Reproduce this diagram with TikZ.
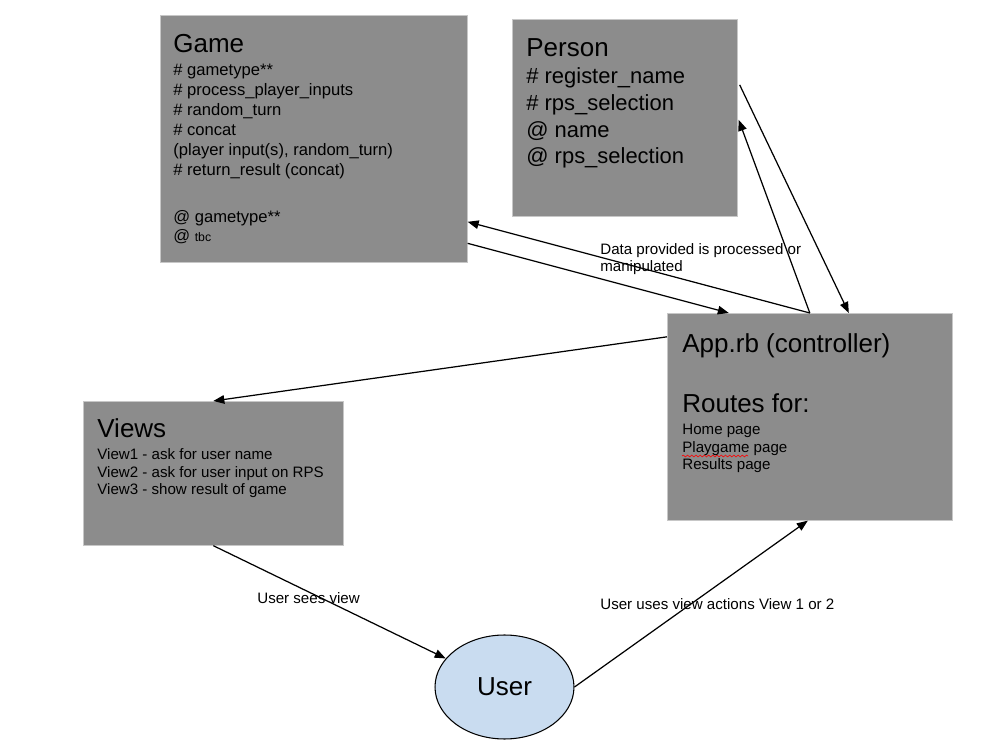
\documentclass[tikz,border=0pt]{standalone}
\usepackage{fontspec}
\setmainfont{Liberation Sans}
\usetikzlibrary{positioning,calc,arrows.meta,shapes.geometric,decorations.pathmorphing}
\definecolor{boxgray}{RGB}{140,140,140}
\definecolor{userblue}{RGB}{201,220,240}

\begin{document}
\begin{tikzpicture}[x=0.02cm,y=-0.02cm,
   block/.style={rectangle,fill=boxgray,draw=black!22,line width=0.4pt,anchor=north west,inner sep=0pt},
   ttl/.style={anchor=base west,inner sep=0pt,align=left,font=\fontsize{14.8}{17.3}\selectfont},
   txt/.style={anchor=base west,inner sep=0pt,align=left,font=\fontsize{8.6}{10.2}\selectfont},
   arr/.style={-{Triangle[length=0.22cm,width=0.17cm]},line width=0.7pt}]
   \useasboundingbox (0,0) rectangle (998,746);
   % boxes
   \node[block,minimum width=6.14cm,minimum height=4.94cm] (GAME) at (160,15) {};
   \node[block,minimum width=4.5cm,minimum height=3.94cm] (PERS) at (512,19) {};
   \node[block,minimum width=5.7cm,minimum height=4.14cm] (APP) at (667,313) {};
   \node[block,minimum width=5.2cm,minimum height=2.88cm] (VIEWS) at (83,401) {};
   \node[ellipse,draw=black,fill=userblue,line width=0.6pt,minimum width=2.78cm,minimum height=2.08cm,
         font=\fontsize{14.8}{17.3}\selectfont] (USER) at (504.5,687) {User};
   % texts in the boxes (base = last line)
   \node[ttl] (GAMEttl) at (173,53) {Game};
   \node[txt,font=\fontsize{9.45}{11.34}\selectfont] (GAMEtxt) at (173,242) {\# gametype**\\
      \# process\_player\_inputs\\
      \# random\_turn\\
      \# concat\\
      (player input(s), random\_turn)\\
      \# return\_result (concat)\\[15.3pt]
      @ gametype**\\
      @ {\fontsize{7}{8}\selectfont tbc}};
   \node[ttl] (PERSttl) at (526,57) {Person};
   \node[txt,font=\fontsize{12.5}{15.3}\selectfont] (PERStxt) at (526,164) {\# register\_name\\
      \# rps\_selection\\
      @ name\\
      @ rps\_selection};
   \node[ttl] (APPttl) at (682,413) {App.rb (controller)\\[17.3pt]Routes for:};
   \node[txt] (APPtxt) at (682,470) {Home page\\Playgame page\\Results page};
   \draw[red,line width=0.35pt,decorate,decoration={snake,amplitude=0.5pt,segment length=2.4pt}]
      (682,456) -- (748,456);
   \node[ttl] (VIEWSttl) at (97,438) {Views};
   \node[txt] (VIEWStxt) at (97,495) {View1 - ask for user name\\
      View2 - ask for user input on RPS\\
      View3 - show result of game};
   % connectors
   \path[arr]
   (APP.north) edge ($(GAME.east)+(0,83)$)
               edge ($(PERS.east)+(1,2)$)
   ($(GAME.east)+(0,104.5)$) edge ($(APP.north)+(-81,0)$)
   ($(PERS.east)+(2,-33)$) edge ($(APP.north)+(39,0)$)
   ($(APP.west)+(0,-80)$) edge (VIEWS.north)
   (VIEWS.south) edge (USER)
   (USER.east) edge ($(APP.south)+(-2,0)$);
   % connector texts
   \node[txt] (DATAlbl) at (600,272) {Data provided is processed or\\manipulated};
   \node[txt] (SEESlbl) at (257,603) {User sees view};
   \node[txt] (USESlbl) at (600,609) {User uses view actions View 1 or 2};
\end{tikzpicture}
\end{document}
